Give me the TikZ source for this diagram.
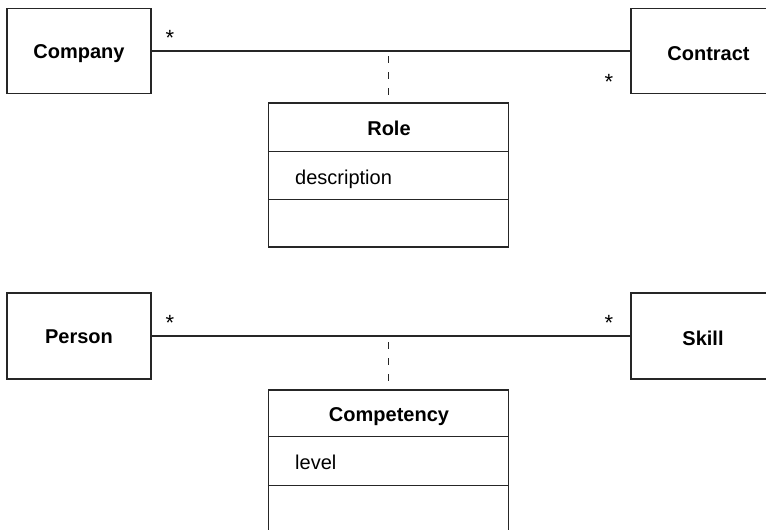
\documentclass[tikz,border=0pt]{standalone}
\usepackage{fontspec}
\setmainfont{Liberation Sans}
\begin{document}
\begin{tikzpicture}[x=1pt,y=-1pt,
  every node/.style={font=\fontsize{20}{24}\selectfont, text=black},
  cls/.style={draw=black!85, line width=1.3pt, inner sep=0pt, font=\fontsize{20}{24}\selectfont\bfseries, text height=14pt, text depth=0pt},
  assoc/.style={draw=black!85, line width=1.3pt},
  linkdash/.style={draw=black!85, line width=1.3pt, dash pattern=on 7pt off 9pt},
  mult/.style={inner sep=0pt, font=\fontsize{22}{26}\selectfont}
]
\useasboundingbox (0,0) rectangle (766,530);
\clip (0,0) rectangle (766,530);

% ---------- top diagram ----------
\node[cls, minimum width=144pt, minimum height=85pt] (company) at (79,51) {Company};
\node[cls, minimum width=155pt, minimum height=85pt, text height=18pt] (contract) at (708.5,51) {Contract};
\draw[assoc] (company.east) -- (contract.west);

\node[draw=black!85, line width=1.3pt, minimum width=240pt, minimum height=144pt, inner sep=0pt] (role) at (388.5,175) {};
\coordinate (a1) at (role.north |- company.east);
\draw[assoc] ([yshift=-49pt]role.north west) -- ([yshift=-49pt]role.north east);
\draw[assoc] ([yshift=-97pt]role.north west) -- ([yshift=-97pt]role.north east);
\node[font=\fontsize{20}{24}\selectfont\bfseries, text height=14pt, text depth=0pt, inner sep=0pt] (roletitle) at (389,128) {Role};
\node[anchor=west, text height=14pt, text depth=0pt, inner sep=0pt] (roleattr) at (295,177) {description};
\draw[linkdash, shorten <=5pt, shorten >=6pt] (a1) -- (role.north);

\node[mult] (s1) at (170,38) {*};
\node[mult] (s2) at (609,82) {*};

% ---------- bottom diagram ----------
\node[cls, minimum width=144pt, minimum height=86pt] (person) at (79,336) {Person};
\node[cls, minimum width=144pt, minimum height=86pt, text height=18pt] (skill) at (703,336) {Skill};
\draw[assoc] (person.east) -- (skill.west);

\node[draw=black!85, line width=1.3pt, minimum width=240pt, minimum height=150pt, inner sep=0pt] (comp) at (388.5,465) {};
\coordinate (a2) at (comp.north |- person.east);
\draw[assoc] ([yshift=-47pt]comp.north west) -- ([yshift=-47pt]comp.north east);
\draw[assoc] ([yshift=-96pt]comp.north west) -- ([yshift=-96pt]comp.north east);
\node[font=\fontsize{20}{24}\selectfont\bfseries, text height=14pt, text depth=0pt, inner sep=0pt] (comptitle) at (389,414) {Competency};
\node[anchor=west, text height=14pt, text depth=0pt, inner sep=0pt] (compattr) at (295,462) {level};
\draw[linkdash, shorten <=6pt, shorten >=8pt] (a2) -- (comp.north);

\node[mult] (s3) at (170,323) {*};
\node[mult] (s4) at (609,323) {*};
\end{tikzpicture}
\end{document}
